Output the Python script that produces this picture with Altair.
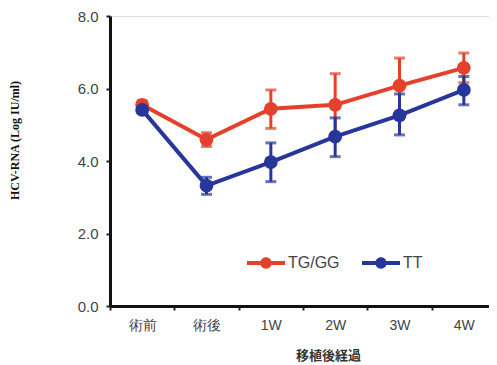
import altair as alt
import pandas as pd

categories = ["術前", "術後", "1W", "2W", "3W", "4W"]
series_names = ["TG/GG", "TT"]
tg_mean = [5.55, 4.59, 5.44, 5.55, 6.08, 6.57]
tg_low = [5.45, 4.40, 4.90, 4.70, 5.32, 6.16]
tg_high = [5.66, 4.78, 5.96, 6.41, 6.84, 6.98]
tt_mean = [5.41, 3.32, 3.97, 4.67, 5.26, 5.96]
tt_low = [5.33, 3.08, 3.43, 4.12, 4.72, 5.55]
tt_high = [5.50, 3.55, 4.50, 5.19, 5.85, 6.33]
y_ticks = [0, 2, 4, 6, 8]

rows = []
for i, c in enumerate(categories):
    rows.append(dict(cat=c, s="TG/GG", m=tg_mean[i], lo=tg_low[i], hi=tg_high[i], order=0))
    rows.append(dict(cat=c, s="TT", m=tt_mean[i], lo=tt_low[i], hi=tt_high[i], order=1))
df = pd.DataFrame(rows)

RED = "#e4412c"
BLUE = "#27369a"

xenc = alt.X("cat:N", sort=categories,
             scale=alt.Scale(domain=categories, range=[0, 386], paddingInner=0, paddingOuter=0),
             axis=alt.Axis(title="移植後経過", labelAngle=0, tickBand="extent",
                           labelFont="Liberation Sans", labelFontSize=14, labelColor="#444",
                           labelPadding=8, tickSize=4, tickWidth=2, tickColor="#222",
                           domainColor="#111", domainWidth=3,
                           titleFont="Noto Sans CJK JP", titleFontSize=13, titleFontWeight="bold",
                           titleColor="#333", titleX=218, titleY=49, titleAlign="center",
                           titleBaseline="middle"))
yscale = alt.Scale(domain=[0, 8], nice=False, zero=True)
yaxis = alt.Axis(title="HCV-RNA  (Log IU/ml)", values=y_ticks, format=".1f", grid=False,
                 labelFont="Liberation Sans", labelFontSize=15, labelColor="#444",
                 labelPadding=8, tickSize=4, tickWidth=2, tickColor="#222",
                 domainColor="#111", domainWidth=3,
                 titleFont="Liberation Serif", titleFontSize=12, titleFontWeight="bold",
                 titleColor="#111", titleX=-96, titleY=124, titleAngle=-90,
                 titleAlign="center", titleBaseline="middle")

layers = []
for name, col in zip(series_names, [RED, BLUE]):
    d = df[df.s == name]
    base = alt.Chart(d)
    rule = base.mark_rule(color=col, strokeWidth=3).encode(x=xenc, y=alt.Y("lo:Q", scale=yscale, axis=yaxis), y2="hi:Q")
    cap_hi = base.mark_tick(color=col, thickness=3, size=11).encode(x=xenc, y=alt.Y("hi:Q", scale=yscale))
    cap_lo = base.mark_tick(color=col, thickness=3, size=11).encode(x=xenc, y=alt.Y("lo:Q", scale=yscale))
    line = base.mark_line(color=col, strokeWidth=4).encode(x=xenc, y=alt.Y("m:Q", scale=yscale))
    pts = base.mark_circle(color=col, size=190, opacity=1).encode(x=xenc, y=alt.Y("m:Q", scale=yscale))
    layers += [rule, cap_hi, cap_lo, line, pts]

legend_path = ("M -1 -0.1 L 1 -0.1 L 1 0.1 L -1 0.1 Z "
               "M 0.3 0 A 0.3 0.3 0 1 1 -0.3 0 A 0.3 0.3 0 1 1 0.3 0 Z")
leg = alt.Chart(df).mark_point(opacity=0, filled=True).encode(
    x=xenc, y=alt.Y("m:Q", scale=yscale),
    color=alt.Color("s:N", scale=alt.Scale(domain=series_names, range=[RED, BLUE]),
                    legend=alt.Legend(title=None, orient="none", legendX=137, legendY=228,
                                      direction="horizontal", symbolType=legend_path,
                                      symbolSize=1444, symbolOpacity=1, symbolStrokeWidth=0,
                                      labelFont="Liberation Sans", labelFontSize=16,
                                      labelColor="#444", labelOffset=3, columnPadding=22)))
layers.append(leg)

chart = alt.layer(*layers).properties(
    width=379, height=290,
    autosize=alt.AutoSizeParams(type="none"),
    padding={"left": 102, "top": 8, "right": 0, "bottom": 62},
).configure_view(stroke=None).configure(background="white")

chart.save("out.html", embed_options={"renderer": "svg", "actions": False})
